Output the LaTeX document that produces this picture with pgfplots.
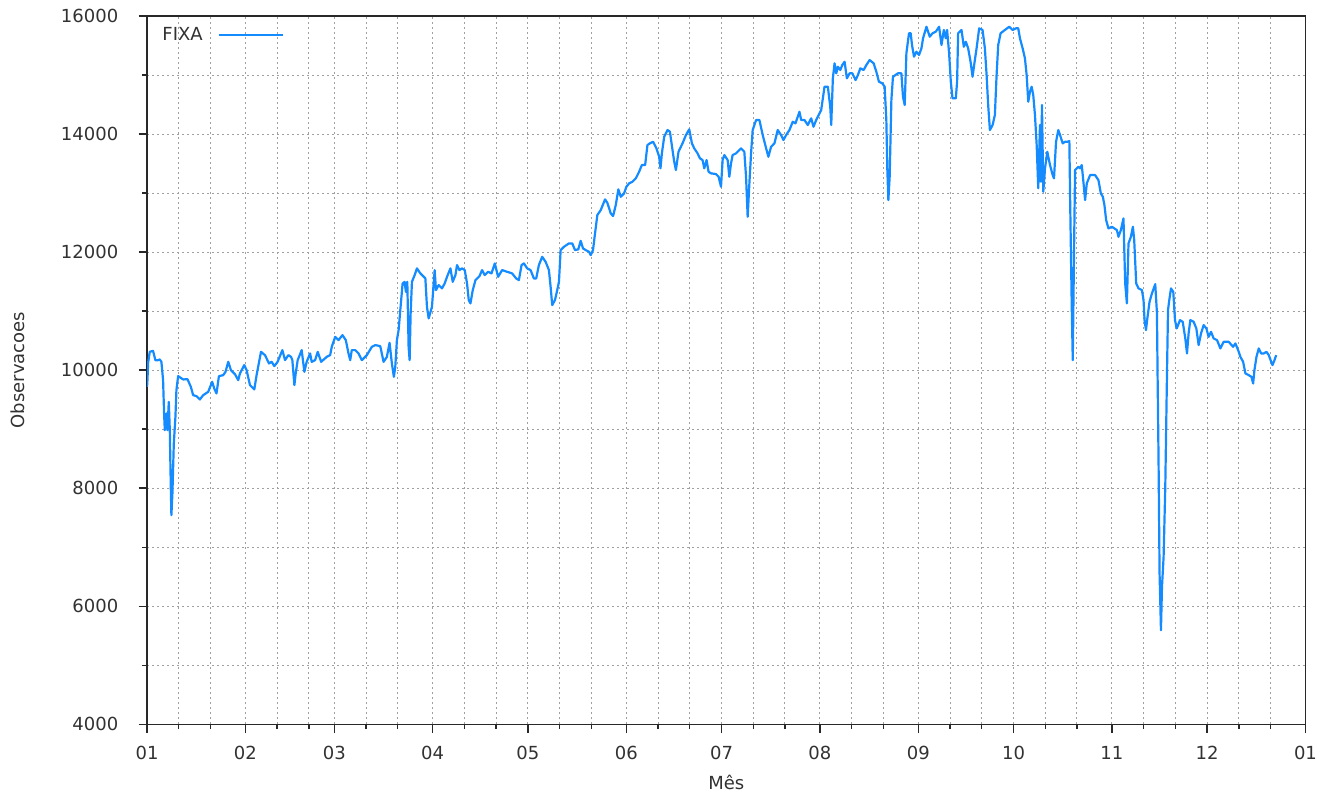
\documentclass[border=0pt]{standalone}
\usepackage{pgfplots}
\pgfplotsset{compat=1.18}
\usepackage{fontspec}
\setmainfont{DejaVu Sans}
\definecolor{fixa}{RGB}{20,140,255}
\definecolor{gridc}{RGB}{160,160,160}
\definecolor{axc}{RGB}{40,40,40}
\definecolor{txc}{RGB}{50,50,50}
\pgfplotstableread{
x y
0 9717
0.15 9859
0.32 10119
0.85 10310
1.89 10327
2.62 10169
3.47 10169
4.01 10181
4.52 10141
5.05 9830
5.37 9266
5.59 8983
6.09 9266
6.41 8983
6.85 9463
7.17 8983
7.48 8022
7.67 7542
7.99 7910
8.43 8758
8.94 9208
9.25 9661
9.79 9898
11.37 9842
12.73 9847
13.80 9717
14.52 9576
15.57 9559
16.64 9503
17.68 9576
19.26 9632
20.52 9802
21.16 9690
21.88 9605
22.64 9898
24.00 9915
24.72 9971
25.58 10141
26.43 10000
27.69 9932
28.73 9830
29.27 9944
30.63 10085
31.36 10000
32.43 9746
33.79 9673
34.51 9915
35.90 10310
37.16 10254
38.43 10113
39.25 10141
40.10 10068
41.14 10141
42.63 10339
43.48 10169
44.52 10254
45.37 10225
45.78 10169
46.42 9746
46.83 9944
47.46 10169
48.72 10339
49.57 9971
50.30 10141
51.37 10283
51.88 10141
52.95 10169
53.77 10310
54.85 10141
56.62 10225
57.69 10254
58.20 10395
59.27 10564
60.31 10508
61.57 10593
62.62 10508
63.47 10283
64.00 10169
64.51 10339
65.58 10339
66.63 10283
67.67 10169
69.25 10254
70.83 10395
71.90 10424
73.48 10407
74.52 10141
75.56 10225
76.41 10463
77.14 10113
77.77 9886
78.21 10056
78.72 10508
79.26 10678
79.79 11017
80.52 11469
81.15 11496
81.56 11327
82.00 11496
82.41 10395
82.73 10169
83.05 10961
83.46 11496
84.31 11610
85.04 11724
86.11 11639
87.69 11554
88.19 11073
88.73 10876
89.77 11073
90.62 11695
91.03 11356
91.89 11441
92.93 11385
93.78 11469
94.51 11581
95.58 11724
96.31 11496
97.16 11610
97.67 11780
98.42 11695
99.25 11724
100.10 11695
100.82 11469
101.36 11186
101.90 11130
102.62 11356
103.48 11525
104.74 11593
105.56 11695
106.41 11610
107.45 11666
108.53 11639
109.57 11808
110.61 11581
111.87 11695
113.45 11666
115.03 11639
116.30 11554
117.15 11525
118.00 11780
118.73 11808
119.77 11724
120.84 11695
121.88 11554
122.61 11554
123.46 11780
124.50 11920
125.58 11835
126.62 11695
127.15 11412
127.66 11102
128.52 11186
129.24 11356
129.78 11496
130.31 12034
131.36 12090
132.94 12147
133.98 12147
134.83 12034
135.87 12046
136.63 12191
137.36 12063
138.21 12034
139.25 12005
139.79 11949
140.51 12034
141.15 12317
141.87 12627
142.95 12712
144.30 12893
145.03 12835
146.10 12656
146.83 12610
147.68 12796
148.50 13063
149.26 12937
150.30 12995
151.03 13107
151.88 13164
152.92 13191
154.00 13249
155.04 13361
155.89 13474
156.93 13474
157.66 13813
158.42 13842
159.46 13869
160.50 13757
161.36 13615
161.77 13419
162.21 13673
162.94 13954
163.98 14068
164.74 14040
165.56 13729
166.10 13530
166.63 13390
167.45 13700
168.71 13842
169.79 13983
170.83 14080
171.68 13842
172.41 13757
173.45 13673
174.21 13588
175.03 13559
175.57 13419
176.29 13559
176.92 13361
177.68 13334
179.26 13322
180.08 13276
180.84 13107
181.35 13559
181.88 13644
182.93 13559
183.46 13276
184.00 13503
184.50 13644
185.58 13673
187.16 13757
188.19 13700
188.73 13276
189.24 12598
189.78 13164
190.31 13673
190.82 14068
191.89 14237
192.94 14237
193.98 13983
195.06 13757
195.77 13615
196.62 13785
197.67 13842
198.71 14068
199.78 13983
200.51 13898
201.36 13983
202.40 14068
203.44 14208
204.30 14181
205.02 14293
205.56 14378
206.10 14237
207.14 14237
208.18 14152
209.25 14266
209.98 14124
210.83 14237
212.41 14407
213.45 14802
214.50 14802
215.26 14463
215.57 14152
216.08 14944
216.62 15198
217.15 15029
217.66 15141
218.42 15085
219.05 15169
219.78 15225
220.50 14944
221.36 15029
222.21 15029
223.25 14915
223.98 15000
224.73 15113
225.78 15085
226.63 15169
227.67 15254
228.93 15198
229.78 15056
230.60 14886
231.67 14859
232.40 14802
232.93 14237
233.25 13390
233.57 12881
233.98 13276
234.52 14576
235.02 14971
236.60 15029
237.67 15029
238.18 14632
238.72 14491
239.25 15368
240.07 15707
240.61 15707
241.02 15508
241.65 15310
242.41 15395
243.23 15339
243.99 15452
244.50 15622
245.57 15818
246.61 15649
247.47 15707
248.51 15734
249.55 15818
250.31 15508
251.04 15763
251.67 15622
252.08 15763
252.71 15368
253.25 14886
253.78 14605
254.82 14605
255.23 14886
255.55 15707
256.62 15763
257.35 15479
257.98 15564
258.71 15452
259.47 15225
260.10 14971
260.60 15169
261.36 15452
262.18 15791
263.25 15763
263.98 15452
264.52 15000
265.02 14491
265.56 14068
266.41 14152
267.13 14322
267.67 15000
268.18 15508
268.93 15707
270.29 15763
271.65 15818
272.72 15763
273.76 15791
274.49 15791
275.03 15622
275.88 15452
276.60 15283
277.14 15000
277.65 14547
278.18 14717
278.72 14802
279.22 14661
279.76 14322
280.30 13813
280.80 13080
281.34 14152
281.66 13191
281.97 14491
282.38 13022
282.92 13419
283.65 13700
284.50 13474
285.35 13305
285.76 13249
286.40 13869
287.12 14068
287.66 13983
288.51 13842
289.24 13869
289.97 13869
290.60 13881
290.82 12966
291.36 11046
291.67 10169
292.08 12063
292.40 13390
293.44 13446
293.97 13419
294.51 13474
295.02 13191
295.56 12881
296.09 13164
297.14 13305
298.71 13305
299.76 13220
300.51 12995
301.15 12937
301.65 12796
302.19 12542
302.91 12401
303.99 12429
305.57 12373
306.07 12259
306.83 12373
307.65 12571
308.19 11469
308.72 11130
309.23 12147
309.99 12259
310.62 12429
311.03 12203
311.66 11469
312.39 11385
313.46 11356
313.97 11186
314.29 10847
314.73 10678
315.23 10903
315.86 11158
316.62 11300
317.66 11457
318.20 10961
318.39 9944
318.70 8474
319.02 6554
319.46 5593
319.78 6327
320.29 6836
320.82 8022
321.36 9944
321.68 11017
322.08 11186
322.62 11385
323.34 11327
323.88 10847
324.42 10707
325.46 10847
326.31 10819
327.13 10537
327.66 10283
328.17 10622
328.71 10847
329.75 10819
330.60 10707
331.33 10424
332.08 10622
332.91 10763
333.76 10707
334.48 10564
335.24 10649
336.06 10537
337.13 10508
338.18 10368
339.22 10480
340.80 10480
342.19 10395
342.91 10452
343.77 10339
344.49 10225
345.35 10141
346.07 9944
347.12 9915
347.97 9886
348.50 9774
348.91 10000
349.55 10225
350.27 10368
351.03 10283
351.85 10283
352.70 10310
353.43 10254
354.19 10141
354.60 10085
355.23 10169
355.77 10254
}\fixadata
\begin{document}
\begin{tikzpicture}
\useasboundingbox (-73.5pt,-36.5pt) rectangle (590.75pt,362pt);
\begin{axis}[
  at={(0pt,0pt)}, anchor=south west,
  scale only axis, width=579pt, height=354pt,
  xmin=0, xmax=365, ymin=4000, ymax=16000,
  xtick={0,31,59,90,120,151,181,212,243,273,304,334,365},
  xticklabels={01,02,03,04,05,06,07,08,09,10,11,12,01},
  minor xtick={10,20,41,51,69,79,100,110,130,140,161,171,191,201,222,232,253,263,283,293,314,324,344,354},
  ytick={4000,6000,8000,10000,12000,14000,16000},
  minor ytick={5000,7000,9000,11000,13000,15000},
  scaled y ticks=false,
  /pgf/number format/1000 sep={},
  /pgf/number format/assume math mode=true,
  tick align=outside,
  xtick pos=bottom, ytick pos=left,
  major tick length=4.2pt, minor tick length=2.4pt,
  grid=both,
  major grid style={gridc, dash pattern=on 1pt off 1.5pt, line width=0.5pt},
  minor grid style={gridc, dash pattern=on 1pt off 1.5pt, line width=0.5pt},
  axis line style={axc, line width=0.7pt},
  every tick/.style={axc, line width=0.7pt},
  font=\fontsize{9}{11}\selectfont,
  tick label style={txc, font=\fontsize{9}{11}\selectfont},
  yticklabel style={anchor=east, inner sep=0pt, xshift=-10pt},
  xticklabel style={anchor=center, inner sep=0pt, yshift=-10pt},
  xlabel={Mês}, ylabel={Observacoes},
  every axis x label/.style={at={(rel axis cs:0.5,0)}, anchor=center, yshift=-29pt, text=txc},
  every axis y label/.style={at={(rel axis cs:0,0.5)}, xshift=-64.5pt, rotate=90, anchor=center, text=txc},
  legend plot pos=right,
  legend style={draw=none, fill=none, at={(rel axis cs:0,1)}, anchor=north west, xshift=7.5pt, yshift=-5.5pt, inner sep=0pt, column sep=7.5pt, text=txc, font=\fontsize{9}{11}\selectfont, nodes={inner sep=0pt}},
  legend image code/.code={\draw[#1, line width=1pt] (0pt,0pt) -- (32pt,0pt);},
]
\addplot[fixa, line width=1.1pt, line join=round] table[x=x, y=y] {\fixadata};
\addlegendentry{FIXA}
\end{axis}
\end{tikzpicture}
\end{document}
